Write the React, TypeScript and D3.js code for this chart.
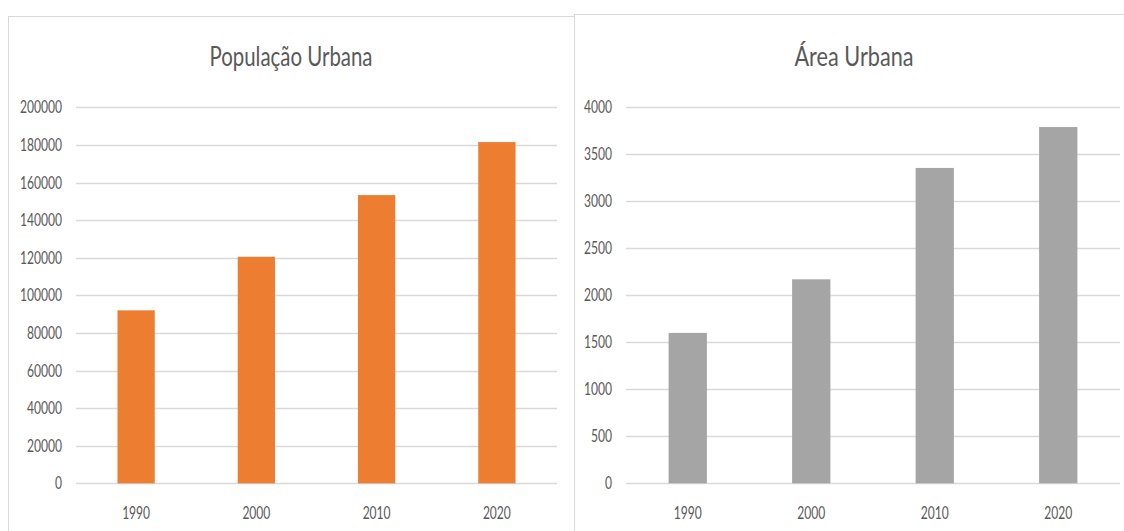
import React from 'react';
import * as d3 from 'd3';

const years = ['1990', '2000', '2010', '2020'];
const populacao = [92000, 120500, 153300, 181500];
const area = [1600, 2170, 3355, 3790];
const popTicks = [0, 20000, 40000, 60000, 80000, 100000, 120000, 140000, 160000, 180000, 200000];
const areaTicks = [0, 500, 1000, 1500, 2000, 2500, 3000, 3500, 4000];

const W = 1124, H = 531;
const font = 'Lato, "Open Sans", sans-serif';
const textColor = '#595959';
const gridColor = '#d9d9d9';

type PanelProps = {
  title: string;
  titleWidth: number;
  values: number[];
  ticks: number[];
  color: string;
  box: { x: number; y: number; w: number; h: number };
  plot: { left: number; right: number; top: number; bottom: number };
  labelRight: number;
};

function Panel(props: PanelProps) {
  const { title, titleWidth, values, ticks, color, box, plot, labelRight } = props;

  const x = d3.scaleBand()
    .domain(years)
    .range([plot.left, plot.right])
    .paddingInner(0.69)
    .paddingOuter(0.345);

  const y = d3.scaleLinear()
    .domain([0, d3.max(ticks) as number])
    .range([plot.bottom, plot.top]);

  const cx = box.x + box.w / 2;

  return (
    <g>
      <rect x={box.x + 0.5} y={box.y + 0.5} width={box.w} height={box.h}
        fill="#fff" stroke={gridColor} />
      <text x={cx} y={66} textAnchor="middle" fontSize={26} fill={textColor}
        textLength={titleWidth} lengthAdjust="spacingAndGlyphs">{title}</text>

      {ticks.map((t) => (
        <g key={t}>
          <line x1={plot.left} x2={plot.right} y1={Math.round(y(t)) + 0.5} y2={Math.round(y(t)) + 0.5}
            stroke={gridColor} strokeWidth={1.3} />
          <text x={labelRight} y={y(t) + 6} textAnchor="end" fontSize={16.5} fill={textColor}
            textLength={String(t).length * 7} lengthAdjust="spacingAndGlyphs">{t}</text>
        </g>
      ))}

      {values.map((v, i) => (
        <rect key={years[i]} x={x(years[i])} y={y(v)} width={x.bandwidth()}
          height={plot.bottom - y(v)} fill={color} />
      ))}

      {years.map((yr) => (
        <text key={yr} x={(x(yr) as number) + x.bandwidth() / 2} y={519} textAnchor="middle"
          fontSize={16.5} fill={textColor}
          textLength={28} lengthAdjust="spacingAndGlyphs">{yr}</text>
      ))}
    </g>
  );
}

export default function App() {
  return (
    <svg width={W} height={H} fontFamily={font}
      style={{ position: 'absolute', left: 0, top: 0, background: '#fff' }}>
      <Panel title="População Urbana" titleWidth={163} values={populacao} ticks={popTicks}
        color="#ed7d31"
        box={{ x: 8, y: 16, w: 566, h: 530 }}
        plot={{ left: 76, right: 557, top: 107.3, bottom: 483.3 }}
        labelRight={62} />
      <Panel title="Área Urbana" titleWidth={119} values={area} ticks={areaTicks}
        color="#a5a5a5"
        box={{ x: 574, y: 14, w: 560, h: 530 }}
        plot={{ left: 626, right: 1120, top: 107.3, bottom: 483.3 }}
        labelRight={612} />
    </svg>
  );
}
